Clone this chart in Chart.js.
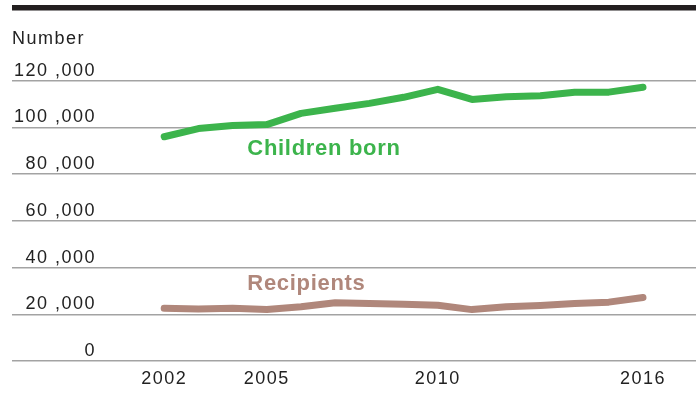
<!DOCTYPE html>
<html>
<head>
<meta charset="utf-8">
<script src="https://cdn.jsdelivr.net/npm/chart.js@4/dist/chart.umd.min.js"></script>
<style>
  html, body { margin: 0; padding: 0; background: #fff; }
  #wrap { width: 696px; height: 399px; position: relative; }
</style>
</head>
<body>
<div id="wrap"><canvas id="c"></canvas></div>
<script>
// ---- data ----
const years = [2002, 2003, 2004, 2005, 2006, 2007, 2008, 2009, 2010, 2011, 2012, 2013, 2014, 2015, 2016];
const childrenBorn = [96000, 99500, 100800, 101200, 106000, 108200, 110300, 112900, 116300, 112000, 113100, 113600, 115100, 115100, 117200];
const recipients = [22600, 22300, 22600, 22000, 23200, 24900, 24600, 24300, 23900, 22000, 23200, 23800, 24600, 25200, 27200];
const seriesNames = ['Children born', 'Recipients'];
const xTickYears = [2002, 2005, 2010, 2016];
const yTickValues = [0, 20000, 40000, 60000, 80000, 100000, 120000];
const yAxisTitle = 'Number';

// ---- styles ----
const GREEN = '#3cb44c';
const BROWN = '#b0877b';
const TEXT = '#222222';
const FONT = '"Liberation Sans", Arial, Helvetica, sans-serif';
const SPACING = '1.5px';
// label anchors (data coordinates) for the in-chart series names
const labelAnchors = [
  { x: 2004.43, y: 91000, color: GREEN },
  { x: 2004.43, y: 33000, color: BROWN }
];

function fmt(v) {
  if (v === 0) return '0';
  const th = Math.floor(v / 1000);
  return th + ' ,' + String(v % 1000).padStart(3, '0');
}

const decor = {
  id: 'decor',
  beforeUpdate(chart) { chart.ctx.letterSpacing = SPACING; },
  beforeDraw(chart) {
    const ctx = chart.ctx;
    ctx.letterSpacing = SPACING;
    ctx.save();
    ctx.fillStyle = '#231f20';
    ctx.fillRect(12, 5, 684, 5.5);
    ctx.fillStyle = TEXT;
    ctx.font = '18px ' + FONT;
    ctx.textAlign = 'left';
    ctx.textBaseline = 'alphabetic';
    ctx.fillText(yAxisTitle, 12, 44);
    ctx.restore();
  },
  afterDatasetsDraw(chart) {
    const ctx = chart.ctx;
    const xs = chart.scales.x, ys = chart.scales.y;
    ctx.save();
    ctx.letterSpacing = '0.7px';
    ctx.font = 'bold 22px ' + FONT;
    ctx.textAlign = 'left';
    ctx.textBaseline = 'middle';
    seriesNames.forEach((name, i) => {
      const a = labelAnchors[i];
      ctx.fillStyle = a.color;
      ctx.fillText(name, xs.getPixelForValue(a.x), ys.getPixelForValue(a.y));
    });
    ctx.restore();
    ctx.letterSpacing = SPACING;
  }
};

new Chart(document.getElementById('c'), {
  type: 'line',
  data: {
    datasets: [
      {
        label: seriesNames[0],
        data: years.map((y, i) => ({ x: y, y: childrenBorn[i] })),
        borderColor: GREEN,
        borderWidth: 7,
        borderCapStyle: 'round',
        borderJoinStyle: 'round',
        pointRadius: 0,
        tension: 0
      },
      {
        label: seriesNames[1],
        data: years.map((y, i) => ({ x: y, y: recipients[i] })),
        borderColor: BROWN,
        borderWidth: 7,
        borderCapStyle: 'round',
        borderJoinStyle: 'round',
        pointRadius: 0,
        tension: 0
      }
    ]
  },
  options: {
    responsive: true,
    maintainAspectRatio: false,
    animation: false,
    devicePixelRatio: 1,
    layout: { padding: { left: 8, right: 0, top: 80.7, bottom: 2.4 } },
    plugins: { legend: { display: false }, tooltip: { enabled: false } },
    scales: {
      x: {
        type: 'linear',
        min: 1997.55,
        max: 2017.55,
        grid: { display: false, drawTicks: false },
        border: { display: false },
        afterBuildTicks(scale) { scale.ticks = xTickYears.map(v => ({ value: v })); },
        ticks: {
          padding: 7,
          color: TEXT,
          font: { family: FONT, size: 18 },
          maxRotation: 0,
          autoSkip: false,
          callback: v => String(v)
        }
      },
      y: {
        min: 0,
        max: 120000,
        afterBuildTicks(scale) { scale.ticks = yTickValues.map(v => ({ value: v })); },
        grid: { color: '#a3a3a3', lineWidth: 1.5, drawTicks: false },
        border: { display: false },
        ticks: {
          mirror: true,
          crossAlign: 'far',
          padding: 2,
          labelOffset: -10,
          color: TEXT,
          font: { family: FONT, size: 18 },
          callback: v => fmt(v)
        }
      }
    }
  },
  plugins: [decor]
});
</script>
</body>
</html>
